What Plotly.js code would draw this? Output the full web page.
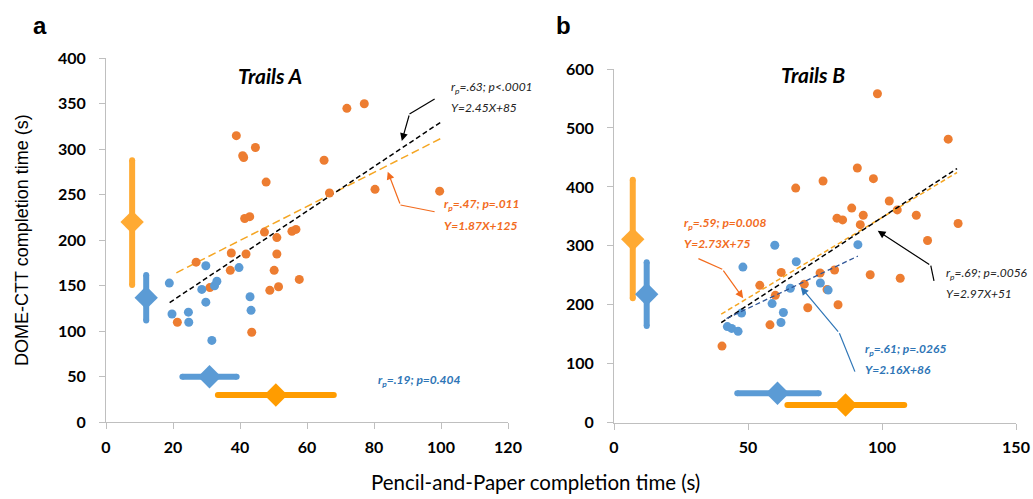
<!DOCTYPE html>
<html>
<head>
<meta charset="utf-8">
<script src="https://cdn.plot.ly/plotly-3.0.1.min.js"></script>
<style>html,body{margin:0;padding:0;background:#fff;}#chart{width:1033px;height:499px;}</style>
</head>
<body>
<div id="chart"></div>
<script>
// ---------- Panel a: Trails A ----------
const aOrangeX = [71.9,77.1,38.9,40.8,41.1,44.6,65.1,47.8,66.7,80.3,99.6,41.4,42.9,47.3,51.0,55.5,56.7,26.9,37.4,41.8,51.0,37.1,50.2,57.7,31.0,48.9,51.5,21.3,43.5];
const aOrangeY = [345,350,315,293,291,302,288,264,252,256,254,224,226,209,203,210,212,176,186,185,185,167,167,157,148,145,149,110,99];
const aBlueX = [18.9,29.8,39.7,28.6,32.4,33.1,29.8,19.7,24.6,24.7,43.0,43.3,31.6];
const aBlueY = [153,172,170,146,150,155,132,119,121,110,138,123,90];
// summary bars: [low, mean, high]
const aOrangeVert = {x: 7.8, y: [151, 220, 288]};
const aBlueVert = {x: 12.0, y: [112, 137, 162]};
const aBlueHorz = {y: 50, x: [22.8, 30.9, 39.0]};
const aOrangeHorz = {y: 30, x: [33.4, 50.7, 68.0]};
// regression lines [slope, intercept, xStart, xEnd]
const aAllFit = [2.45, 85, 19, 100];
const aOrangeFit = [1.87, 125, 21, 100];

// ---------- Panel b: Trails B ----------
const bOrangeX = [98.3,124.7,90.8,96.8,67.8,78.0,102.7,105.7,88.7,83.2,85.3,93.0,91.9,112.8,128.4,117.0,95.6,106.8,62.4,76.9,82.3,54.4,71.0,79.5,60.2,72.3,83.6,58.2,40.3];
const bOrangeY = [558,481,432,414,398,410,376,361,364,347,344,352,336,352,338,309,251,245,255,254,259,233,235,226,216,195,200,166,130];
const bBlueX = [60.0,91.0,68.0,48.1,65.8,77.0,79.9,59.0,63.2,62.3,47.6,42.3,43.9,46.3];
const bBlueY = [301,302,273,264,228,237,225,202,187,170,186,163,160,155];
const bOrangeVert = {x: 7.0, y: [211, 311, 412]};
const bBlueVert = {x: 12.2, y: [164, 218, 272]};
const bBlueHorz = {y: 50, x: [46.0, 61.0, 76.4]};
const bOrangeHorz = {y: 30, x: [64.7, 86.4, 108.3]};
const bAllFit = [2.97, 51, 40, 128];
const bOrangeFit = [2.73, 75, 40, 128];
const bBlueFit = [2.16, 86, 42, 91];

// arrows: polyline points [x, y], last point is the arrow tip
const aBlackArrow = [[98.1,355.3],[90.6,338.8],[88.3,309.1]];
const aOrangeArrow = [[98.1,231.4],[87.9,238.8],[84.1,275.4]];
const bOrangeArrow = [[31.5,278.4],[40.4,260.4],[48.2,211.2]];
const bBlueArrow = [[89.9,86.6],[84.1,151.8],[69.7,229.9]];
const bBlackArrow = [[119.4,240.6],[118.2,266.6],[98.4,325.5]];

// colors
const C_ORANGE_DOT = '#ED7D31';
const C_BLUE_DOT = '#5B9BD5';
const C_ORANGE_V = '#FFAA33';
const C_ORANGE_H = '#FF9C00';
const C_BLUE_BAR = '#5B9BD5';

const traces = [];
const A = ['x', 'y'], B = ['x2', 'y2'];
function dots(x, y, color, ax) {
  traces.push({x, y, xaxis: ax[0], yaxis: ax[1], type: 'scatter', mode: 'markers',
    marker: {color, size: 9, opacity: 1, line: {width: 0}}, hoverinfo: 'skip'});
}
function bar(xs, ys, color, ax) {
  traces.push({x: [xs[0], xs[2]], y: [ys[0], ys[2]], xaxis: ax[0], yaxis: ax[1], type: 'scatter', mode: 'lines',
    line: {color, width: 6}, hoverinfo: 'skip'});
  traces.push({x: [xs[0], xs[2]], y: [ys[0], ys[2]], xaxis: ax[0], yaxis: ax[1], type: 'scatter', mode: 'markers',
    marker: {color, size: 6, symbol: 'circle', opacity: 1, line: {width: 0}}, hoverinfo: 'skip'});
  traces.push({x: [xs[1]], y: [ys[1]], xaxis: ax[0], yaxis: ax[1], type: 'scatter', mode: 'markers',
    marker: {color, size: 18, symbol: 'diamond', opacity: 1, line: {width: 0}}, hoverinfo: 'skip'});
}
function vbar(b, color, ax) { bar([b.x, b.x, b.x], b.y, color, ax); }
function hbar(b, color, ax) { bar(b.x, [b.y, b.y, b.y], color, ax); }
function fit(f, color, dash, width, ax) {
  const xs = [f[2], f[3]];
  traces.push({x: xs, y: xs.map(v => f[0] * v + f[1]), xaxis: ax[0], yaxis: ax[1], type: 'scatter', mode: 'lines',
    line: {color, dash, width}, hoverinfo: 'skip'});
}

vbar(aOrangeVert, C_ORANGE_V, A);
vbar(aBlueVert, C_BLUE_BAR, A);
hbar(aBlueHorz, C_BLUE_BAR, A);
hbar(aOrangeHorz, C_ORANGE_H, A);
fit(aOrangeFit, '#F5A623', '8px,4px', 1.5, A);
fit(aAllFit, '#000000', '5px,3px', 1.5, A);
dots(aOrangeX, aOrangeY, C_ORANGE_DOT, A);
dots(aBlueX, aBlueY, C_BLUE_DOT, A);

vbar(bOrangeVert, C_ORANGE_V, B);
vbar(bBlueVert, C_BLUE_BAR, B);
hbar(bBlueHorz, C_BLUE_BAR, B);
hbar(bOrangeHorz, C_ORANGE_H, B);
dots(bOrangeX, bOrangeY, C_ORANGE_DOT, B);
dots(bBlueX, bBlueY, C_BLUE_DOT, B);
fit(bOrangeFit, '#F5A623', '5px,3px', 1.5, B);
fit(bAllFit, '#000000', '5px,3px', 1.5, B);
fit(bBlueFit, '#2F5597', '5px,3px', 1.3, B);

const annotations = [];
function arrow(pts, color, ax) {
  const n = pts.length;
  traces.push({x: pts.slice(0, n - 1).map(p => p[0]), y: pts.slice(0, n - 1).map(p => p[1]),
    xaxis: ax[0], yaxis: ax[1], type: 'scatter', mode: 'lines', line: {color, width: 1.2}, hoverinfo: 'skip'});
  annotations.push({x: pts[n - 1][0], y: pts[n - 1][1], ax: pts[n - 2][0], ay: pts[n - 2][1],
    xref: ax[0], yref: ax[1], axref: ax[0], ayref: ax[1], text: '', showarrow: true,
    arrowhead: 2, arrowsize: 1.3, arrowwidth: 1.2, arrowcolor: color});
}
arrow(aBlackArrow, '#000000', A);
arrow(aOrangeArrow, '#F26B1D', A);
arrow(bOrangeArrow, '#F26B1D', B);
arrow(bBlueArrow, '#2E75B6', B);
arrow(bBlackArrow, '#000000', B);

function label(text, x, y, color, bold, ax) {
  annotations.push({x, y, xref: ax[0], yref: ax[1], text, showarrow: false, xanchor: 'left', yanchor: 'middle',
    font: {family: 'Lato', size: 12, color, style: 'italic', weight: bold ? 'bold' : 'normal'}});
}
label('r<sub>p</sub>=.63; p&lt;.0001', 102.5, 367.4, '#222222', false, A);
label('Y=2.45X+85', 102.5, 345.4, '#222222', false, A);
label('r<sub>p</sub>=.47; p=.011', 100.4, 238.8, '#F26B1D', true, A);
label('Y=1.87X+125', 100.4, 216.8, '#F26B1D', true, A);
label('r<sub>p</sub>=.19; p=0.404', 80.5, 45.4, '#2E75B6', true, A);
label('r<sub>p</sub>=.69; p=.0056', 123.1, 252.5, '#222222', false, B);
label('Y=2.97X+51', 123.1, 218.5, '#222222', false, B);
label('r<sub>p</sub>=.59; p=0.008', 25.4, 337.4, '#F26B1D', true, B);
label('Y=2.73X+75', 25.4, 303.4, '#F26B1D', true, B);
label('r<sub>p</sub>=.61; p=.0265', 92.9, 123.4, '#2E75B6', true, B);
label('Y=2.16X+86', 92.9, 89.5, '#2E75B6', true, B);

annotations.push({x: 49, y: 381.6, xref: 'x', yref: 'y', text: 'Trails A', showarrow: false, xanchor: 'center', yanchor: 'middle',
  font: {family: 'Lato', size: 21, color: '#000', style: 'italic', weight: 'bold'}});
annotations.push({x: 74.1, y: 590.3, xref: 'x2', yref: 'y2', text: 'Trails B', showarrow: false, xanchor: 'center', yanchor: 'middle',
  font: {family: 'Lato', size: 21, color: '#000', style: 'italic', weight: 'bold'}});
annotations.push({x: 40 / 1033, y: 1 - 25 / 499, xref: 'paper', yref: 'paper', text: 'a', showarrow: false, xanchor: 'center', yanchor: 'middle',
  font: {family: 'Liberation Sans', size: 24, color: '#000', weight: 'bold'}});
annotations.push({x: 563 / 1033, y: 1 - 25 / 499, xref: 'paper', yref: 'paper', text: 'b', showarrow: false, xanchor: 'center', yanchor: 'middle',
  font: {family: 'Liberation Sans', size: 24, color: '#000', weight: 'bold'}});
annotations.push({x: 22 / 1033, y: 1 - 240 / 499, xref: 'paper', yref: 'paper', text: 'DOME-CTT completion time (s)',
  textangle: -90, showarrow: false, xanchor: 'center', yanchor: 'middle', font: {family: 'Liberation Sans', size: 18, color: '#000'}});
annotations.push({x: 535 / 1033, y: 1 - 482 / 499, xref: 'paper', yref: 'paper', text: 'Pencil-and-Paper completion time (s)',
  showarrow: false, xanchor: 'center', yanchor: 'middle', font: {family: 'Lato', size: 20.5, color: '#000'}});

const tickFont = {family: 'Lato', size: 16, color: '#000', weight: 'bold'};
const axBase = {showgrid: false, zeroline: false, showline: true, linecolor: '#BFBFBF', linewidth: 1,
  ticks: 'outside', ticklen: 6, tickcolor: '#BFBFBF', tickfont: tickFont, fixedrange: true};

const layout = {
  width: 1033, height: 499,
  margin: {l: 0, r: 0, t: 0, b: 0},
  paper_bgcolor: '#fff', plot_bgcolor: '#fff',
  showlegend: false, hovermode: false,
  xaxis: Object.assign({}, axBase, {domain: [106 / 1033, 508 / 1033], range: [0, 120], dtick: 20, anchor: 'y', ticklabelstandoff: 4}),
  yaxis: Object.assign({}, axBase, {domain: [1 - 422.3 / 499, 1 - 58.3 / 499], range: [0, 400], dtick: 50, anchor: 'x', ticklabelstandoff: 10}),
  xaxis2: Object.assign({}, axBase, {domain: [614 / 1033, 1016 / 1033], range: [0, 150], dtick: 50, anchor: 'y2', ticklabelstandoff: 4}),
  yaxis2: Object.assign({}, axBase, {domain: [1 - 422.7 / 499, 1 - 69 / 499], range: [0, 600], dtick: 100, anchor: 'x2', ticklabelstandoff: 10}),
  annotations
};

Plotly.newPlot('chart', traces, layout, {displayModeBar: false, staticPlot: true});
</script>
</body>
</html>
